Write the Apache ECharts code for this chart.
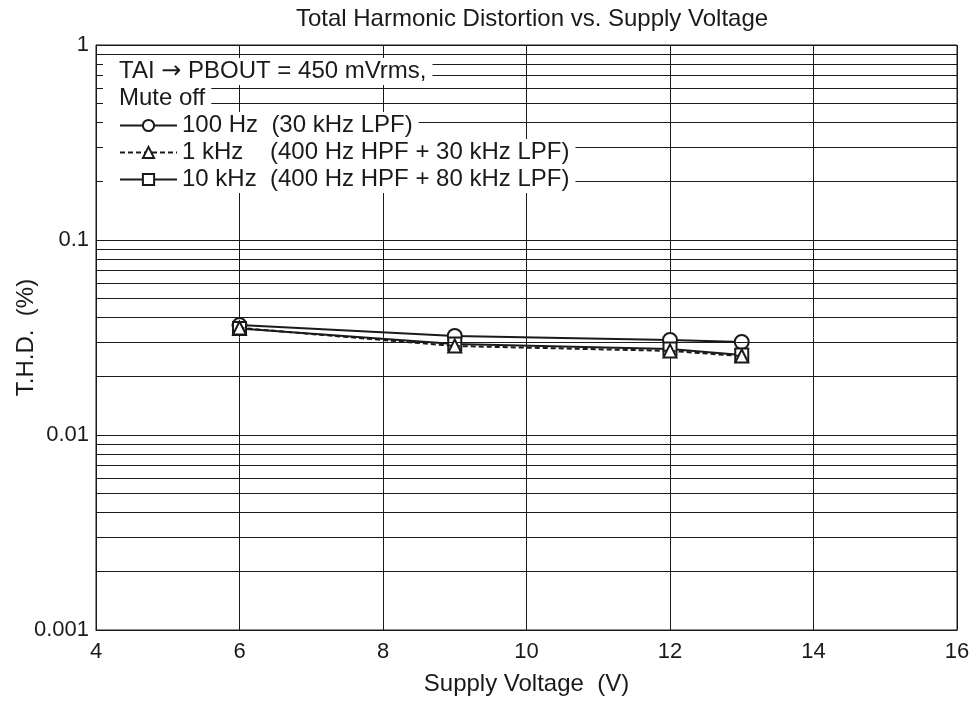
<!DOCTYPE html>
<html>
<head>
<meta charset="utf-8">
<script src="https://cdn.jsdelivr.net/npm/echarts@6/dist/echarts.min.js"></script>
<style>
  html, body { margin: 0; padding: 0; background: #fff; }
  #main { width: 975px; height: 704px; }
</style>
</head>
<body>
<div id="main"></div>
<script>
// supply voltage (V)
var voltages = [6, 9, 12, 13];
// T.H.D. (%)
var thd100Hz = [0.0366, 0.0322, 0.0307, 0.0300];
var thd1kHz = [0.0354, 0.0286, 0.0270, 0.0254];
var thd10kHz = [0.0352, 0.0293, 0.0276, 0.0257];
var yTickLabels = ["0.001", "0.01", "0.1", "1"];
var seriesNames = ["100 Hz", "1 kHz", "10 kHz"];
var legendLabels = {
  "100 Hz": "100 Hz  (30 kHz LPF)",
  "1 kHz": "1 kHz    (400 Hz HPF + 30 kHz LPF)",
  "10 kHz": "10 kHz  (400 Hz HPF + 80 kHz LPF)"
};
// minor log grid lines 2..9 per decade
var minorGrid = [];
[0.001, 0.01, 0.1].forEach(function (d) {
  for (var k = 2; k <= 9; k++) minorGrid.push(+(k * d).toPrecision(3));
});

function pairs(vals) {
  return voltages.map(function (v, i) { return [v, vals[i]]; });
}

var font = "Liberation Sans, Arial, sans-serif";
var black = "#1a1a1a";

var myChart = echarts.init(document.getElementById("main"));
var option = {
  animation: false,
  title: {
    text: "Total Harmonic Distortion vs. Supply Voltage",
    left: 527,
    textAlign: "center",
    top: 2,
    textStyle: { fontFamily: font, fontSize: 24, fontWeight: "normal", color: black }
  },
  grid: {
    left: 96, right: 18, top: 45, bottom: 74,
    containLabel: false, outerBoundsMode: "none",
    show: true, borderColor: black, borderWidth: 1
  },
  xAxis: {
    type: "value",
    min: 4,
    max: 16,
    interval: 2,
    name: "Supply Voltage  (V)",
    nameLocation: "middle",
    nameGap: 42,
    nameMoveOverlap: false,
    nameTextStyle: { fontFamily: font, fontSize: 24, color: black },
    axisLine: { lineStyle: { color: black } },
    axisTick: { show: false },
    axisLabel: { fontFamily: font, fontSize: 22, color: black, margin: 11 },
    splitLine: { show: true, lineStyle: { color: black, width: 1 } }
  },
  yAxis: {
    type: "log",
    logBase: 10,
    min: 0.001,
    max: 1,
    name: "T.H.D.  (%)",
    nameLocation: "middle",
    nameGap: 58,
    nameMoveOverlap: false,
    nameTextStyle: { fontFamily: font, fontSize: 24, color: black },
    axisLine: { lineStyle: { color: black } },
    axisTick: { show: false },
    axisLabel: {
      fontFamily: font, fontSize: 22, color: black, margin: 7,
      formatter: function (v) {
        var l = Math.round(Math.log10(v)) + 3;
        return yTickLabels[l] || "";
      }
    },
    splitLine: { show: true, lineStyle: { color: black, width: 1 } }
  },
  legend: {
    orient: "vertical",
    left: 119,
    top: 112,
    padding: 0,
    itemGap: 0,
    itemWidth: 57,
    itemHeight: 14,
    z: 11,
    data: seriesNames,
    formatter: function (name) { return legendLabels[name]; },
    textStyle: {
      fontFamily: font, fontSize: 24, color: black, lineHeight: 27,
      backgroundColor: "#fff", padding: [0, 6, 0, 0]
    }
  },
  graphic: [
    {
      type: "rect", z: 10,
      shape: { x: 103, y: 110, width: 80, height: 84 },
      style: { fill: "#fff" }
    },
    {
      type: "text", z: 10, left: 103, top: 58,
      style: {
        text: "TAI {arr|\u2192} PBOUT = 450 mVrms,", fontFamily: font, fontSize: 24, fill: black,
        lineHeight: 27, backgroundColor: "#fff", padding: [0, 6, 0, 16],
        rich: { arr: { fontFamily: "DejaVu Sans", fontSize: 24, fill: black, lineHeight: 27 } }
      }
    },
    {
      type: "text", z: 10, left: 103, top: 85,
      style: {
        text: "Mute off", fontFamily: font, fontSize: 24, fill: black,
        lineHeight: 27, backgroundColor: "#fff", padding: [0, 6, 0, 16]
      }
    }
  ],
  series: [
    {
      name: "grid",
      type: "line",
      data: [],
      silent: true,
      markLine: {
        silent: true,
        symbol: "none",
        animation: false,
        label: { show: false },
        lineStyle: { color: black, width: 1, type: "solid" },
        data: minorGrid.map(function (v) { return [{ coord: [4, v] }, { coord: [16, v] }]; })
      }
    },
    {
      name: "100 Hz",
      type: "line",
      z: 3,
      data: pairs(thd100Hz),
      symbol: "emptyCircle",
      symbolSize: 14,
      color: black,
      lineStyle: { color: black, width: 2 },
      itemStyle: { color: black, borderWidth: 1.5 }
    },
    {
      name: "10 kHz",
      type: "line",
      z: 4,
      data: pairs(thd10kHz),
      symbol: "emptyRect",
      symbolSize: 13,
      color: black,
      lineStyle: { color: black, width: 2 },
      itemStyle: { color: black, borderWidth: 1.5 }
    },
    {
      name: "1 kHz",
      type: "line",
      z: 5,
      data: pairs(thd1kHz),
      symbol: "emptyTriangle",
      symbolSize: 13,
      color: black,
      lineStyle: { color: black, width: 2, type: [5, 3] },
      itemStyle: { color: black, borderWidth: 1.5 }
    }
  ]
};
myChart.setOption(option);
</script>
</body>
</html>
